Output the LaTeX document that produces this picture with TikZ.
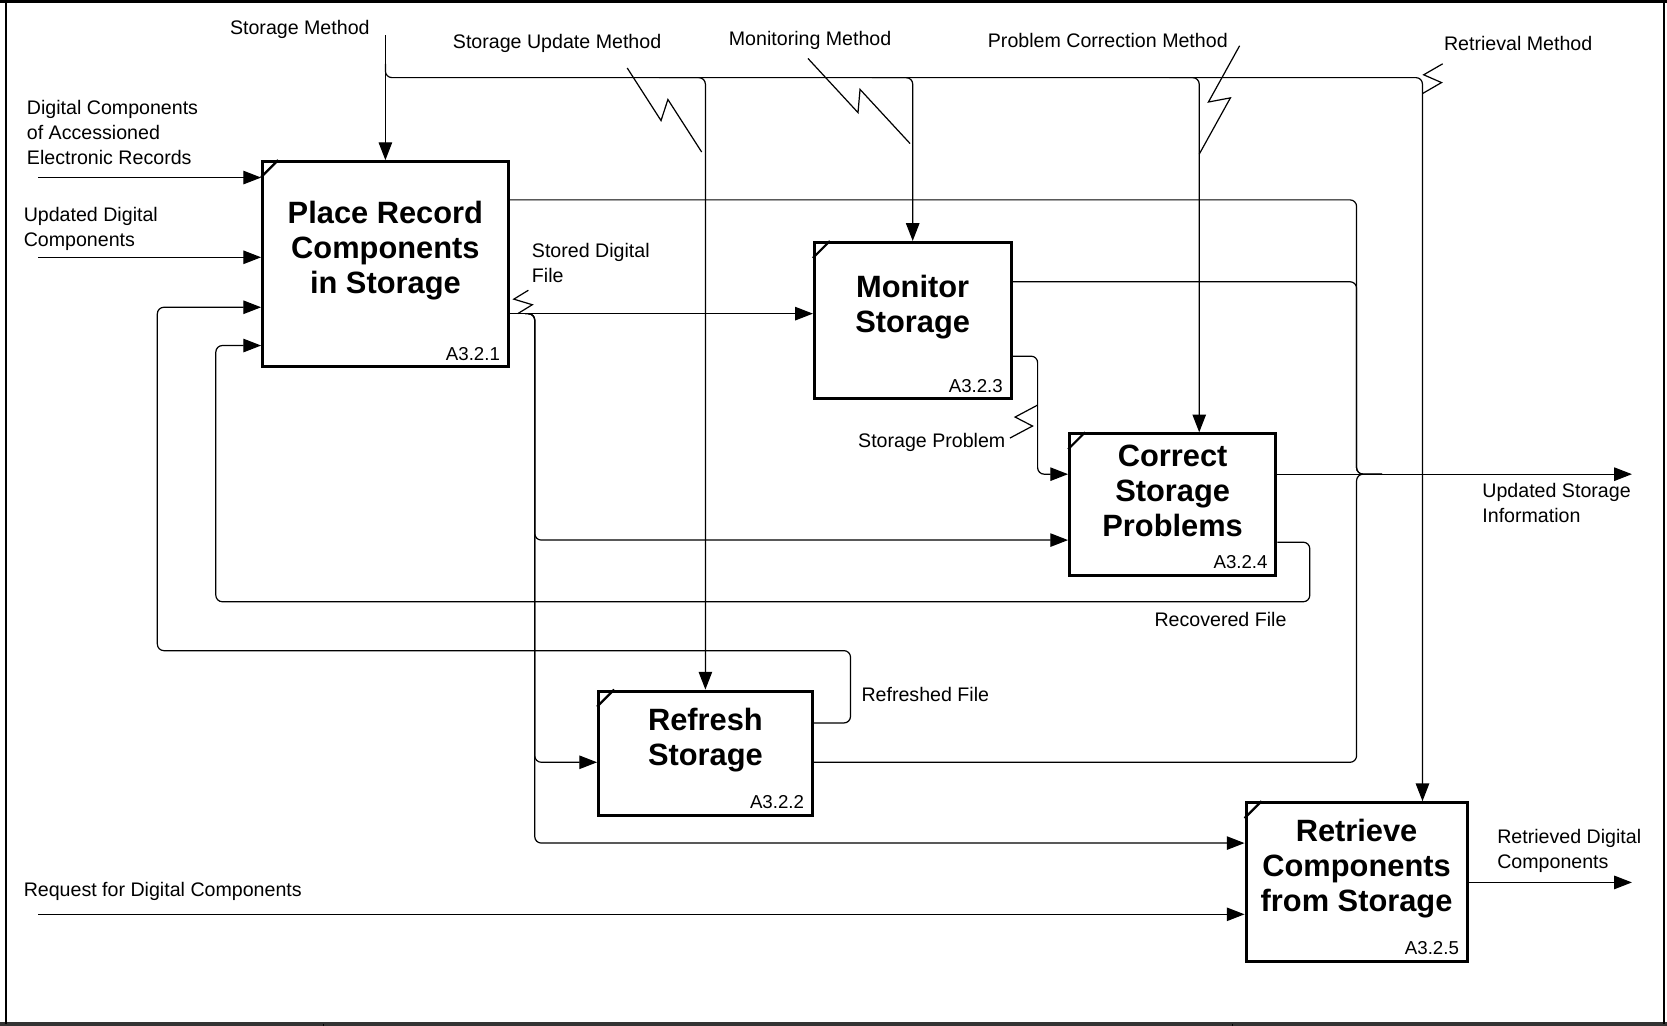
\documentclass[tikz,border=0pt]{standalone}
\usepackage{fontspec}
\setmainfont{Liberation Sans}
\usetikzlibrary{arrows.meta,calc}

% label-to-arrow zigzag
\newcommand{\squig}[2]{%
  \draw[line width=0.65pt] (#1) -- ($(#1)!0.55!(#2)!0.18cm!-90:(#2)$)
    -- ($(#1)!0.45!(#2)!0.18cm!90:(#2)$) -- (#2);}

\begin{document}
\begin{tikzpicture}[x=0.02cm, y=-0.02cm,
    >={Triangle[length=9.5pt,width=7.2pt]},
    act/.style={draw, line width=1.6pt, inner sep=0pt},
    title/.style={font=\fontsize{16.5}{18.7}\selectfont\bfseries, align=center},
    idtext/.style={font=\fontsize{10}{12}\selectfont, inner xsep=5pt, inner ysep=4pt},
    lab/.style={font=\fontsize{10.5}{13.3}\selectfont, align=left, inner sep=0pt},
    flow/.style={line width=0.65pt, rounded corners=3.5pt}]
    \useasboundingbox (0,0) rectangle (1568,965);

    % frame
    \draw[line width=1.2pt] (0,1.5) -- (1568,1.5);
    \draw[line width=1.8pt, black!80] (0,963) -- (1568,963);
    \draw[line width=0.8pt] (5.6,1.5) -- (5.6,963);
    \draw[line width=0.8pt] (1565,1.5) -- (1565,963);
    \foreach \x in {144,782,827,1086,1328}
        \draw (\x,0) -- (\x,1.5);
    \foreach \x in {304,1159}
        \draw (\x,963) -- (\x,965);

    % activities
    \node[act, minimum width=4.62cm, minimum height=3.86cm,
        label={[title, yshift=0.25cm]center:{Place Record\\Components\\in Storage}},
        label={[idtext, anchor=south east]south east:A3.2.1}] (place) at (362.5,248.5) {};
    \node[act, minimum width=3.70cm, minimum height=2.94cm,
        label={[title, yshift=0.25cm]center:{Monitor\\Storage}},
        label={[idtext, anchor=south east]south east:A3.2.3}] (monitor) at (858.5,301.5) {};
    \node[act, minimum width=3.88cm, minimum height=2.66cm,
        label={[title, yshift=0.25cm]center:{Correct\\Storage\\Problems}},
        label={[idtext, anchor=south east]south east:A3.2.4}] (correct) at (1103,474.5) {};
    \node[act, minimum width=4.02cm, minimum height=2.34cm,
        label={[title, yshift=0.25cm]center:{Refresh\\Storage}},
        label={[idtext, anchor=south east]south east:A3.2.2}] (refresh) at (663.5,708.5) {};
    \node[act, minimum width=4.16cm, minimum height=2.98cm,
        label={[title, yshift=0.25cm]center:{Retrieve\\Components\\from Storage}},
        label={[idtext, anchor=south east]south east:A3.2.5}] (retrieve) at (1276,829.5) {};

    \foreach \b in {place,monitor,correct,refresh,retrieve}
        \draw[line width=1.2pt] ([yshift=-0.32cm]\b.north west) -- ([xshift=0.32cm]\b.north west);

    % arrow labels
    \node[lab, anchor=east] (smeth) at (348,28) {Storage Method};
    \node[lab] (sumeth) at (524,41) {Storage Update Method};
    \node[lab] (mmeth) at (762,38) {Monitoring Method};
    \node[lab] (pcmeth) at (1042,38) {Problem Correction Method};
    \node[lab] (rmeth) at (1428,41) {Retrieval Method};
    \node[lab, anchor=west] (dcin) at (25,124.5) {Digital Components\\of Accessioned\\Electronic Records};
    \node[lab, anchor=west] (udin) at (22,215) {Updated Digital\\Components};
    \node[lab, anchor=west] (sdf) at (500,247.5) {Stored Digital\\File};
    \node[lab, anchor=east] (sprob) at (946,416) {Storage Problem};
    \node[lab, anchor=west] (usi) at (1394,473) {Updated Storage\\Information};
    \node[lab] (recf) at (1148,583) {Recovered File};
    \node[lab, anchor=west] (reff) at (810,653) {Refreshed File};
    \node[lab, anchor=west] (rdc) at (1408,800) {Retrieved Digital\\Components};
    \node[lab, anchor=west] (reqin) at (22,838) {Request for Digital Components};

    % controls
    \draw[flow,->] (place.north |- 0,33) -- (place.north);
    \draw[flow,->] (place.north |- 0,60) |- (1338,73) -- (retrieve.north -| 1338,0);
    \draw[flow,->] (620,73) -| (refresh.north);
    \draw[flow,->] (820,73) -| (monitor.north);
    \draw[flow,->] (1100,73) -| (correct.north -| 1128,0);

    % inputs
    \draw[flow,->] (36,167) -- (place.west |- 0,167);
    \draw[flow,->] (36,242) -- (place.west |- 0,242);
    \draw[flow,->] (36,860) -- (retrieve.west |- 0,860);

    % stored digital file
    \draw[flow,->] (place.east |- 0,295) -- (monitor.west |- 0,295);
    \draw[flow,->] (494,295) -| (503,508) -- (correct.west |- 0,508);
    \draw[flow,->] (494,295) -| (503,717) -- (refresh.west |- 0,717);
    \draw[flow,->] (494,295) -| (503,793) -- (retrieve.west |- 0,793);

    % storage problem
    \draw[flow,->] (monitor.east |- 0,335) -| (976,446) -- (correct.west |- 0,446);

    % updated storage information
    \draw[flow] (place.east |- 0,188) -| (1276,446) -- (1300,446);
    \draw[flow] (monitor.east |- 0,265) -| (1276,446) -- (1300,446);
    \draw[flow] (refresh.east |- 0,717) -| (1276,446) -- (1300,446);
    \draw[flow,->] (correct.east |- 0,446) -- (1535,446);

    % feedback
    \draw[flow,->] (correct.east |- 0,510) -| (1232,566) -| (203,325) -- (place.west |- 0,325);
    \draw[flow,->] (refresh.east |- 0,680) -| (800,612) -| (148,289) -- (place.west |- 0,289);

    % retrieved
    \draw[flow,->] (retrieve.east |- 0,830) -- (1535,830);

    % zigzags
    \squig{497,273}{487,295}
    \squig{590,64}{660,143}
    \squig{760,55}{856,135}
    \squig{1166,43}{1128,145}
    \squig{1357,60}{1338,88}
    \squig{950,412}{976,381}
\end{tikzpicture}
\end{document}
